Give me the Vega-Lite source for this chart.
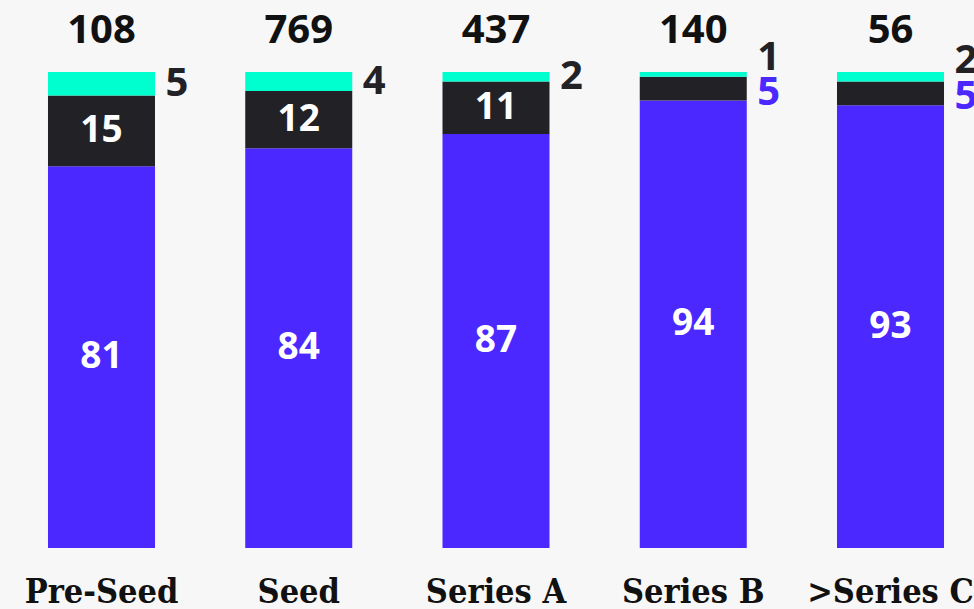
{
  "$schema": "https://vega.github.io/schema/vega-lite/v6.json",
  "width": 992,
  "height": 476,
  "autosize": {"type": "none"},
  "padding": {"left": 0, "top": 72, "right": 0, "bottom": 61},
  "background": "#F7F7F7",
  "config": {"view": {"stroke": null}, "font": "Open Sans"},
  "datasets": {
    "segments": [
      {"stage": "Pre-Seed", "segment": "Segment 1", "order": 1, "value": 81},
      {"stage": "Pre-Seed", "segment": "Segment 2", "order": 2, "value": 15},
      {"stage": "Pre-Seed", "segment": "Segment 3", "order": 3, "value": 5},
      {"stage": "Seed", "segment": "Segment 1", "order": 1, "value": 84},
      {"stage": "Seed", "segment": "Segment 2", "order": 2, "value": 12},
      {"stage": "Seed", "segment": "Segment 3", "order": 3, "value": 4},
      {"stage": "Series A", "segment": "Segment 1", "order": 1, "value": 87},
      {"stage": "Series A", "segment": "Segment 2", "order": 2, "value": 11},
      {"stage": "Series A", "segment": "Segment 3", "order": 3, "value": 2},
      {"stage": "Series B", "segment": "Segment 1", "order": 1, "value": 94},
      {"stage": "Series B", "segment": "Segment 2", "order": 2, "value": 5},
      {"stage": "Series B", "segment": "Segment 3", "order": 3, "value": 1},
      {"stage": ">Series C", "segment": "Segment 1", "order": 1, "value": 93},
      {"stage": ">Series C", "segment": "Segment 2", "order": 2, "value": 5},
      {"stage": ">Series C", "segment": "Segment 3", "order": 3, "value": 2}
    ],
    "totals": [
      {"stage": "Pre-Seed", "total": 108},
      {"stage": "Seed", "total": 769},
      {"stage": "Series A", "total": 437},
      {"stage": "Series B", "total": 140},
      {"stage": ">Series C", "total": 56}
    ]
  },
  "encoding": {
    "x": {
      "field": "stage",
      "type": "nominal",
      "sort": ["Pre-Seed", "Seed", "Series A", "Series B", ">Series C"],
      "scale": {"paddingInner": 0.4575, "paddingOuter": 0.2433},
      "axis": {
        "title": null,
        "domain": false,
        "ticks": false,
        "labelAngle": 0,
        "labelFont": "DejaVu Serif Condensed",
        "labelFontWeight": "bold",
        "labelFontSize": 34,
        "labelColor": "#111111",
        "labelPadding": 54,
        "labelBaseline": "alphabetic",
        "labelOverlap": false,
        "labelBound": false,
        "labelFlush": false
      }
    }
  },
  "layer": [
    {
      "data": {"name": "segments"},
      "transform": [
        {"stack": "value", "groupby": ["stage"], "sort": [{"field": "order", "order": "ascending"}], "offset": "normalize", "as": ["y0", "y1"]},
        {"calculate": "(datum.y0 + datum.y1) / 2", "as": "ymid"}
      ],
      "layer": [
        {
          "mark": {"type": "bar"},
          "encoding": {
            "y": {"field": "y0", "type": "quantitative", "scale": {"domain": [0, 1]}, "axis": null},
            "y2": {"field": "y1"},
            "color": {
              "field": "segment",
              "type": "nominal",
              "scale": {"domain": ["Segment 1", "Segment 2", "Segment 3"], "range": ["#4A28FF", "#222226", "#00FFCF"]},
              "legend": null
            }
          }
        },
        {
          "transform": [{"filter": "datum.value >= 10"}],
          "mark": {"type": "text", "color": "#FFFFFF", "fontSize": 37, "fontWeight": "bold", "baseline": "middle", "align": "center"},
          "encoding": {
            "y": {"field": "ymid", "type": "quantitative"},
            "text": {"field": "value", "type": "quantitative"}
          }
        },
        {
          "transform": [{"filter": "datum.order == 2 && datum.value < 10"}],
          "mark": {"type": "text", "color": "#4A28FF", "fontSize": 40, "fontWeight": "bold", "baseline": "middle", "align": "left", "dx": 64, "dy": 4},
          "encoding": {
            "y": {"field": "ymid", "type": "quantitative"},
            "text": {"field": "value", "type": "quantitative"}
          }
        },
        {
          "transform": [{"filter": {"and": [{"field": "order", "equal": 3}, {"not": {"field": "stage", "oneOf": ["Series B", ">Series C"]}}]}}],
          "mark": {"type": "text", "color": "#222226", "fontSize": 40, "fontWeight": "bold", "baseline": "middle", "align": "left", "dx": 64, "dy": 0},
          "encoding": {
            "y": {"field": "ymid", "type": "quantitative"},
            "text": {"field": "value", "type": "quantitative"}
          }
        },
        {
          "transform": [{"filter": {"and": [{"field": "order", "equal": 3}, {"field": "stage", "oneOf": ["Series B", ">Series C"]}]}}],
          "mark": {"type": "text", "color": "#222226", "fontSize": 40, "fontWeight": "bold", "baseline": "middle", "align": "left", "dx": 64, "dy": -16},
          "encoding": {
            "y": {"field": "ymid", "type": "quantitative"},
            "text": {"field": "value", "type": "quantitative"}
          }
        }
      ]
    },
    {
      "data": {"name": "totals"},
      "mark": {"type": "text", "color": "#111111", "fontSize": 40, "fontWeight": "bold", "baseline": "alphabetic", "align": "center", "dy": -29},
      "encoding": {
        "y": {"datum": 1, "type": "quantitative"},
        "text": {"field": "total", "type": "quantitative"}
      }
    }
  ]
}
